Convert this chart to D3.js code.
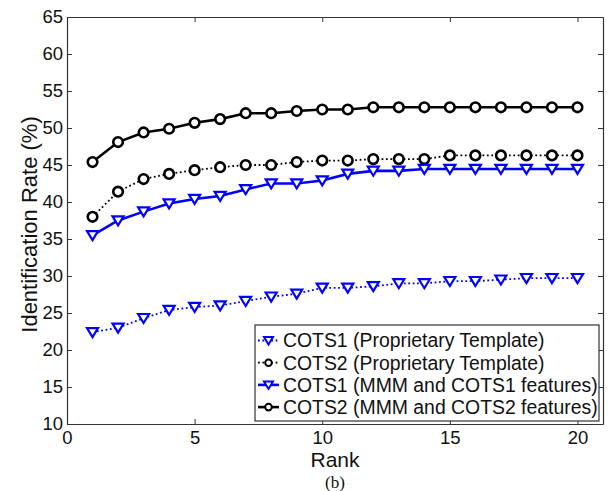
<!DOCTYPE html>
<html>
<head>
<meta charset="utf-8">
<title>Identification Rate vs Rank</title>
<style>
  body { margin: 0; background: #fff; }
  svg text { font-family: "Liberation Sans", Arial, sans-serif; fill: #111; }
</style>
</head>
<body>
<div id="chart"></div>
<script src="https://cdn.jsdelivr.net/npm/d3@7"></script>
<script>
// data
var ranks = d3.range(1, 21);
var cots1Prop = [22.4, 23.0, 24.3, 25.4, 25.8, 26.0, 26.6, 27.2, 27.6, 28.4,
                 28.4, 28.6, 29.0, 29.0, 29.3, 29.3, 29.5, 29.7, 29.7, 29.7];
var cots2Prop = [38.0, 41.4, 43.1, 43.8, 44.3, 44.7, 45.0, 45.0, 45.4, 45.6,
                 45.6, 45.8, 45.8, 45.8, 46.3, 46.3, 46.3, 46.3, 46.3, 46.3];
var cots1Mmm  = [35.5, 37.5, 38.7, 39.8, 40.4, 40.8, 41.7, 42.5, 42.5, 42.9,
                 43.8, 44.2, 44.2, 44.45, 44.45, 44.45, 44.45, 44.45, 44.45, 44.45];
var cots2Mmm  = [45.4, 48.1, 49.4, 49.9, 50.7, 51.2, 52.0, 52.0, 52.3, 52.5,
                 52.5, 52.8, 52.8, 52.8, 52.8, 52.8, 52.8, 52.8, 52.8, 52.8];
var seriesNames = ["COTS1 (Proprietary Template)", "COTS2 (Proprietary Template)",
                   "COTS1 (MMM and COTS1 features)", "COTS2 (MMM and COTS2 features)"];
var xTicks = [0, 5, 10, 15, 20];
var yTicks = d3.range(10, 66, 5);

var width = 609, height = 491;
var margin = {top: 17, right: 6, bottom: 67, left: 67};
var w = width - margin.left - margin.right,
    h = height - margin.top - margin.bottom;

var svg = d3.select("#chart").append("svg")
    .attr("width", width)
    .attr("height", height);

var g = svg.append("g")
    .attr("transform", "translate(" + margin.left + "," + margin.top + ")");

var x = d3.scaleLinear().domain([0, 21]).range([0, w]);
var y = d3.scaleLinear().domain([10, 65]).range([h, 0]);

var series = [
  {name: seriesNames[0], values: cots1Prop, color: "#0000ff", dash: "1.8,2.6", marker: "tri", width: 1.8},
  {name: seriesNames[1], values: cots2Prop, color: "#000000", dash: "1.8,2.6", marker: "circ", width: 1.8},
  {name: seriesNames[2], values: cots1Mmm,  color: "#0000ff", dash: null, marker: "tri", width: 2.6},
  {name: seriesNames[3], values: cots2Mmm,  color: "#000000", dash: null, marker: "circ", width: 2.6}
];

// axes (MATLAB-style box with inward ticks)
var axisColor = "#333";
g.append("g")
    .attr("transform", "translate(0," + h + ")")
    .call(d3.axisBottom(x).tickValues(xTicks).tickSizeInner(-5).tickSizeOuter(0).tickPadding(7))
    .call(styleAxis);
g.append("g")
    .call(d3.axisTop(x).tickValues(xTicks).tickSizeInner(-5).tickSizeOuter(0).tickFormat(""))
    .call(styleAxis);
g.append("g")
    .call(d3.axisLeft(y).tickValues(yTicks).tickSizeInner(-5).tickSizeOuter(0).tickPadding(4))
    .call(styleAxis);
g.append("g")
    .attr("transform", "translate(" + w + ",0)")
    .call(d3.axisRight(y).tickValues(yTicks).tickSizeInner(-5).tickSizeOuter(0).tickFormat(""))
    .call(styleAxis);

function styleAxis(sel) {
  sel.select(".domain").attr("stroke", axisColor).attr("stroke-width", 1.2);
  sel.selectAll(".tick line").attr("stroke", axisColor).attr("stroke-width", 1);
  sel.selectAll(".tick text").attr("font-size", 18.5).style("fill", "#111");
}

var line = d3.line()
    .x(function(d, i) { return x(ranks[i]); })
    .y(function(d) { return y(d); });

var triPath = "M-5.5,-4.2L5.5,-4.2L0,4.8Z";

function drawMarker(sel, s) {
  if (s.marker == "tri") {
    sel.append("path")
        .attr("d", triPath)
        .attr("fill", "#fff")
        .attr("stroke", s.color)
        .attr("stroke-width", 2.2);
  } else {
    sel.append("circle")
        .attr("r", 4.8)
        .attr("fill", "#fff")
        .attr("stroke", s.color)
        .attr("stroke-width", 2.6);
  }
}

series.forEach(function(s) {
  g.append("path")
      .datum(s.values)
      .attr("fill", "none")
      .attr("stroke", s.color)
      .attr("stroke-width", s.width)
      .attr("stroke-dasharray", s.dash)
      .attr("d", line);

  g.selectAll(null)
      .data(s.values)
      .enter().append("g")
      .attr("transform", function(d, i) { return "translate(" + x(ranks[i]) + "," + y(d) + ")"; })
      .each(function() { drawMarker(d3.select(this), s); });
});

// legend
var lg = svg.append("g").attr("transform", "translate(255,325)");
lg.append("rect")
    .attr("width", 344)
    .attr("height", 96)
    .attr("fill", "#fff")
    .attr("stroke", axisColor)
    .attr("stroke-width", 1.2);

series.forEach(function(s, i) {
  var row = lg.append("g").attr("transform", "translate(0," + (15.5 + i * 22.2) + ")");
  row.append("line")
      .attr("x1", 3).attr("x2", 24)
      .attr("stroke", s.color)
      .attr("stroke-width", s.width)
      .attr("stroke-dasharray", s.dash);
  var m = row.append("g").attr("transform", "translate(13.5,0)");
  if (s.marker == "tri") {
    m.append("path").attr("d", "M-4.5,-3.5L4.5,-3.5L0,4Z").attr("fill", "#fff")
        .attr("stroke", s.color).attr("stroke-width", 2);
  } else {
    m.append("circle").attr("r", 3.3).attr("fill", "#fff")
        .attr("stroke", s.color).attr("stroke-width", 2);
  }
  row.append("text")
      .attr("x", 28)
      .attr("dy", "0.36em")
      .attr("font-size", 19.4)
      .text(s.name);
});

// axis titles
svg.append("text")
    .attr("x", margin.left + x(10.5))
    .attr("y", 467)
    .attr("text-anchor", "middle")
    .attr("font-size", 21)
    .text("Rank");

svg.append("text")
    .attr("transform", "translate(37," + (margin.top + h / 2 + 4) + ") rotate(-90)")
    .attr("text-anchor", "middle")
    .attr("font-size", 22)
    .text("Identification Rate (%)");

svg.append("text")
    .attr("x", margin.left + x(10.5))
    .attr("y", 488)
    .attr("text-anchor", "middle")
    .attr("font-size", 17)
    .style("font-family", "'Liberation Serif', 'Times New Roman', serif")
    .text("(b)");
</script>
</body>
</html>
